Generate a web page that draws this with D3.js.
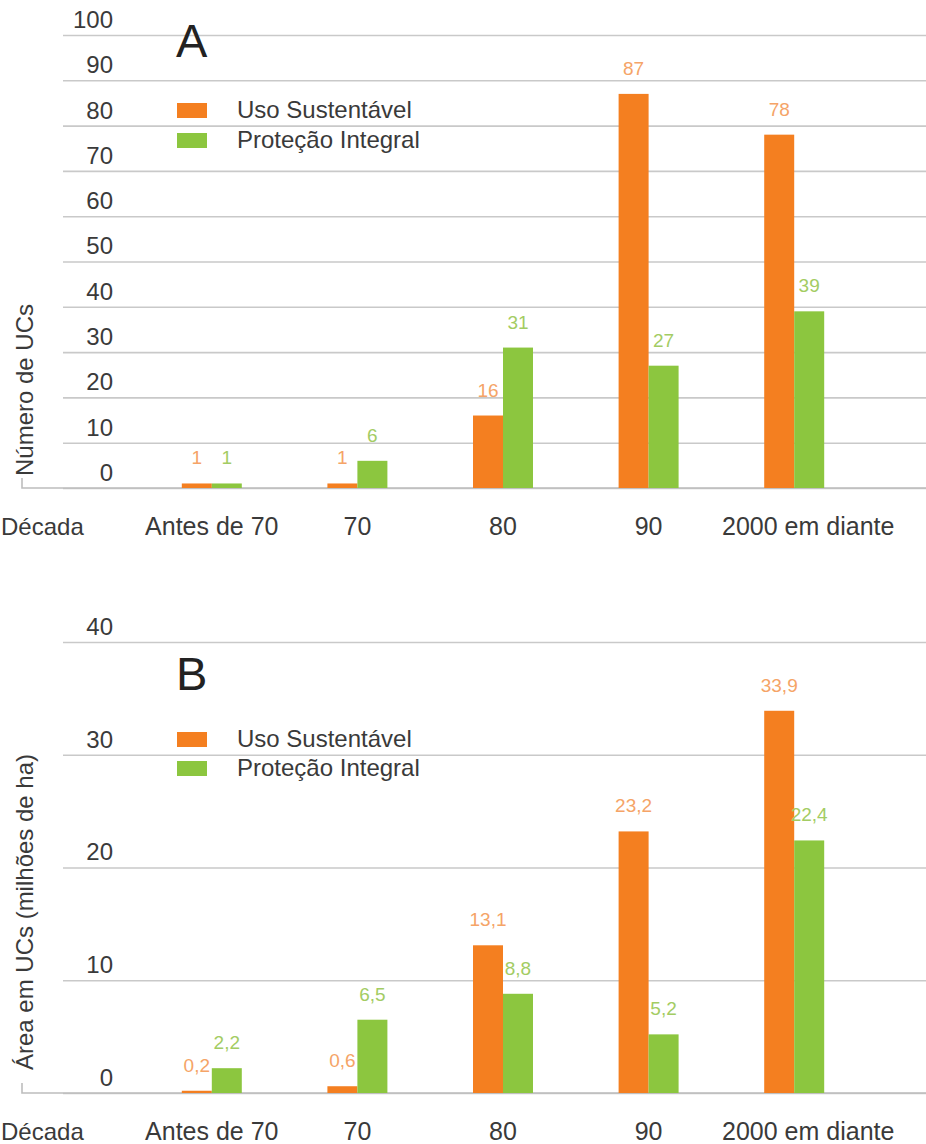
<!DOCTYPE html>
<html>
<head>
<meta charset="utf-8">
<script src="https://cdn.jsdelivr.net/npm/d3@7"></script>
<style>
  html, body { margin: 0; padding: 0; background: #fff; }
  svg { display: block; font-family: "Liberation Sans", Arial, Helvetica, sans-serif; }
</style>
</head>
<body>
<script>
// ---- data ----
const categories = ["Antes de 70", "70", "80", "90", "2000 em diante"];
const seriesNames = ["Uso Sustentável", "Proteção Integral"];
const usoCount = [1, 1, 16, 87, 78];
const protCount = [1, 6, 31, 27, 39];
const usoArea = [0.2, 0.6, 13.1, 23.2, 33.9];
const protArea = [2.2, 6.5, 8.8, 5.2, 22.4];
const ticksA = [0, 10, 20, 30, 40, 50, 60, 70, 80, 90, 100];
const ticksB = [0, 10, 20, 30, 40];
const xAxisTitle = "Década";
const yTitleA = "Número de UCs";
const yTitleB = "Área em UCs (milhões de ha)";

// ---- styles ----
const barColors = ["#F47F20", "#8CC63F"];
const valueColors = ["#F5A467", "#A3CC63"];
const gridColor = "#c9c9c9";
const textColor = "#3a3a3a";

const W = 926, H = 1144;
const svg = d3.select("body").append("svg").attr("width", W).attr("height", H);

const x = d3.scaleBand().domain(categories).range([139, 867])
  .paddingInner(0.588).paddingOuter(0.294);
const xs = d3.scaleBand().domain(seriesNames).range([0, x.bandwidth()]);

const ptFmt = d3.formatLocale({decimal: ",", thousands: ".", grouping: [3], currency: ["R$", ""]});

function panel(cfg) {
  const g = svg.append("g");
  const y = d3.scaleLinear().domain([0, cfg.max]).range([cfg.y0, cfg.y1]);

  // gridlines + tick labels
  const ax = g.append("g").attr("transform", "translate(63,0)")
    .call(d3.axisLeft(y).tickValues(cfg.ticks).tickSize(-(W - 63)).tickPadding(-50));
  ax.select(".domain").remove();
  ax.selectAll(".tick line").attr("stroke", gridColor).attr("stroke-width", 1.6);
  ax.selectAll(".tick text")
    .attr("y", -16).attr("dy", "0.35em")
    .attr("font-size", 24).attr("fill", textColor)
    .attr("font-family", "Liberation Sans, Arial, sans-serif");

  // baseline with left end tick
  const b = y(0);
  g.append("path")
    .attr("d", `M22,${b - 10}V${b}H${W}`)
    .attr("fill", "none").attr("stroke", "#bdbdbd").attr("stroke-width", 1.6);

  // bars
  const rows = categories.map((c, i) => ({c, vals: [cfg.uso[i], cfg.prot[i]]}));
  const grp = g.selectAll(".grp").data(rows).join("g")
    .attr("transform", d => `translate(${x(d.c)},0)`);
  grp.selectAll("rect").data(d => d.vals.map((v, k) => ({v, k})))
    .join("rect")
    .attr("x", d => xs(seriesNames[d.k]))
    .attr("width", xs.bandwidth())
    .attr("y", d => y(d.v))
    .attr("height", d => y(0) - y(d.v))
    .attr("fill", d => barColors[d.k]);
  grp.selectAll("text").data(d => d.vals.map((v, k) => ({v, k})))
    .join("text")
    .attr("x", d => xs(seriesNames[d.k]) + xs.bandwidth() / 2)
    .attr("y", d => y(d.v) - 19)
    .attr("text-anchor", "middle")
    .attr("font-size", 19)
    .attr("fill", d => valueColors[d.k])
    .text(d => cfg.fmt(d.v));

  // category axis labels
  const xa = g.append("g").attr("transform", `translate(0,${b})`)
    .call(d3.axisBottom(x).tickSize(0).tickPadding(0));
  xa.select(".domain").remove();
  xa.selectAll(".tick text")
    .attr("y", cfg.catDy).attr("dy", 0)
    .attr("font-size", 25).attr("fill", textColor)
    .attr("font-family", "Liberation Sans, Arial, sans-serif")
    .attr("dx", (d, i) => i === categories.length - 1 ? 14 : 0);
  g.append("text").attr("x", 1).attr("y", b + cfg.catDy)
    .attr("font-size", 24).attr("fill", textColor).text(xAxisTitle);

  // y title
  g.append("text")
    .attr("transform", `translate(33,${cfg.yTitleMid}) rotate(-90)`)
    .attr("text-anchor", "middle")
    .attr("font-size", 24).attr("fill", textColor)
    .text(cfg.yTitle);

  // panel letter
  g.append("text").attr("x", 176).attr("y", cfg.letterY)
    .attr("font-size", 47).attr("fill", "#222").text(cfg.letter);

  // legend
  const lg = g.selectAll(".lg").data(seriesNames).join("g")
    .attr("transform", (d, i) => `translate(177,${cfg.legY + i * cfg.legStep})`);
  lg.append("rect").attr("x", 0).attr("y", -15).attr("width", 30).attr("height", 15)
    .attr("fill", (d, i) => barColors[i]);
  lg.append("text").attr("x", 60).attr("y", 0)
    .attr("font-size", 24).attr("fill", textColor).text(d => d);
}

panel({max: 100, y0: 488, y1: 35, ticks: ticksA, uso: usoCount, prot: protCount,
  fmt: ptFmt.format("d"), letter: "A", letterY: 57, legY: 118, legStep: 30,
  yTitle: yTitleA, yTitleMid: 390, catDy: 47});
panel({max: 40, y0: 1093, y1: 642, ticks: ticksB, uso: usoArea, prot: protArea,
  fmt: ptFmt.format(".1f"), letter: "B", letterY: 690, legY: 747, legStep: 29,
  yTitle: yTitleB, yTitleMid: 912, catDy: 47});
</script>
</body>
</html>
